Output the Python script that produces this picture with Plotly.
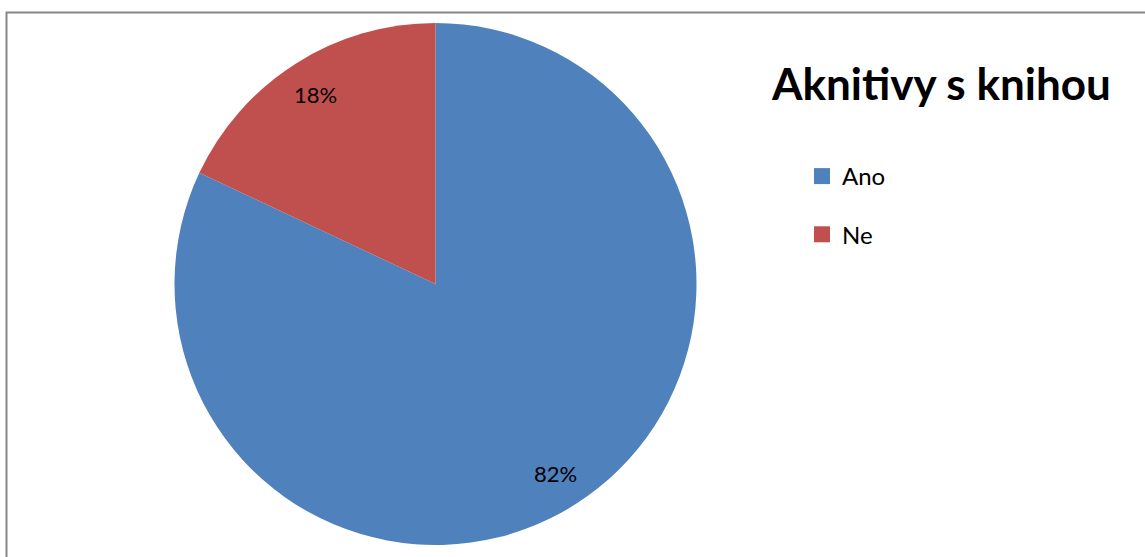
import math
import plotly.graph_objects as go

W, H = 1145, 557

categories = ["Ano", "Ne"]
values = [82, 18]
colors = ["#4F81BD", "#C0504D"]
title_text = "Aknitivy s knihou"

# pie geometry (px)
cx, cy, r = 435.5, 284, 261
label_rho = 0.86

fig = go.Figure()
fig.add_trace(go.Pie(
    labels=categories,
    values=values,
    marker=dict(colors=colors, line=dict(width=0)),
    sort=False,
    direction="clockwise",
    rotation=0,
    textinfo="none",
    showlegend=False,
    hoverinfo="label+percent",
    domain=dict(x=[(cx - r) / W, (cx + r) / W], y=[(H - cy - r) / H, (H - cy + r) / H]),
))

# percentage labels placed along each slice's mid-angle (derived from values)
total = sum(values)
annotations = []
cum = 0
for v in values:
    mid = (cum + v / 2) / total
    theta = 2 * math.pi * mid
    px = cx + label_rho * r * math.sin(theta)
    py = cy - label_rho * r * math.cos(theta)
    annotations.append(dict(
        x=px / W, y=1 - py / H, xref="paper", yref="paper",
        text=f"{round(100 * v / total)}%", showarrow=False,
        font=dict(family="Lato", size=22, color="black"),
        xanchor="center", yanchor="middle",
    ))
    cum += v

# legend entries (square swatches)
for cat, col in zip(categories, colors):
    fig.add_trace(go.Scatter(
        x=[None], y=[None], mode="markers", name=cat,
        marker=dict(symbol="square", size=16, color=col),
        legendgroup=cat, showlegend=True,
    ))

fig.update_layout(
    width=W, height=H,
    margin=dict(l=0, r=0, t=0, b=0),
    paper_bgcolor="white", plot_bgcolor="white",
    xaxis=dict(visible=False), yaxis=dict(visible=False),
    title=dict(text=f"<b>{title_text}</b>", font=dict(family="Lato", size=44, color="black"),
               x=772 / W, xanchor="left", y=1 - 85 / H, yanchor="middle", yref="container"),
    legend=dict(x=802 / W, xanchor="left", y=1 - 154 / H, yanchor="top",
                font=dict(family="Lato", size=24, color="black"),
                tracegroupgap=24, itemsizing="trace", bgcolor="rgba(0,0,0,0)"),
    annotations=annotations,
    shapes=[dict(type="rect", xref="paper", yref="paper",
                 x0=6.5 / W, x1=1.1, y0=-0.1, y1=1 - 12.5 / H,
                 line=dict(color="#878787", width=2), fillcolor="rgba(0,0,0,0)", layer="below")],
)

fig.write_html("out.html", config={"displayModeBar": False},
               post_script="document.body.style.margin='0';")
